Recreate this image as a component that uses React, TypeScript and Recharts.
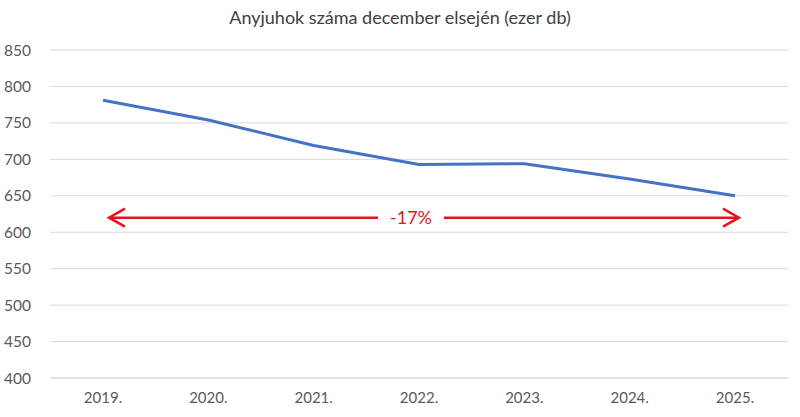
import React from 'react';
import { LineChart, Line, XAxis, YAxis, CartesianGrid, ReferenceLine } from 'recharts';

const years = ['2019.', '2020.', '2021.', '2022.', '2023.', '2024.', '2025.'];
const ewes = [781, 754, 719, 693, 694, 673, 650];
const yTicks = [400, 450, 500, 550, 600, 650, 700, 750, 800, 850];
const arrowLevel = 620;
const changeLabel = '-17%';

const data = years.map((year, i) => ({ year, value: ewes[i] }));

const RED = '#e3141e';
const FONT = 'Lato, "Liberation Sans", sans-serif';

const ArrowShape = (props: any) => {
  const { x1, y1, x2 } = props;
  const left = x1 + 6;
  const right = x2 + 4;
  const y = y1;
  const mid = (left + right) / 2 - 13;
  const gap = 33;
  return (
    <g>
      <line x1={left} y1={y} x2={mid - gap} y2={y} stroke={RED} strokeWidth={2.5} />
      <line x1={mid + gap} y1={y} x2={right} y2={y} stroke={RED} strokeWidth={2.5} />
      <polyline
        points={`${left + 16},${y - 9} ${left},${y} ${left + 16},${y + 9}`}
        fill="none"
        stroke={RED}
        strokeWidth={2.5}
      />
      <polyline
        points={`${right - 16},${y - 9} ${right},${y} ${right - 16},${y + 9}`}
        fill="none"
        stroke={RED}
        strokeWidth={2.5}
      />
      <text x={mid} y={y + 6} textAnchor="middle" fill={RED} fontSize={18} fontFamily={FONT}>
        {changeLabel}
      </text>
    </g>
  );
};

export default function App() {
  return (
    <div style={{ position: 'absolute', left: 0, top: 0, width: 800, height: 417, background: '#fff' }}>
      <div
        style={{
          position: 'absolute',
          top: 6,
          width: 800,
          textAlign: 'center',
          fontFamily: FONT,
          fontSize: 18,
          color: '#404040',
        }}
      >
        Anyjuhok száma december elsején (ezer db)
      </div>
      <LineChart width={800} height={417} data={data} margin={{ top: 50, right: 12, bottom: 9, left: 0 }}>
        <CartesianGrid vertical={false} stroke="#d9d9d9" />
        <XAxis
          dataKey="year"
          padding={{ left: 53, right: 53 }}
          axisLine={{ stroke: '#d9d9d9' }}
          tickLine={false}
          tick={{ fill: '#595959', fontSize: 15, fontFamily: FONT }}
          tickMargin={8}
          height={30}
        />
        <YAxis
          domain={[400, 850]}
          ticks={yTicks}
          axisLine={false}
          tickLine={false}
          tick={{ fill: '#595959', fontSize: 15.5, fontFamily: FONT }}
          width={50}
          tickMargin={13}
        />
        <Line
          type="linear"
          dataKey="value"
          stroke="#4472c4"
          strokeWidth={3}
          dot={false}
          isAnimationActive={false}
        />
        <ReferenceLine
          segment={[
            { x: years[0], y: arrowLevel },
            { x: years[years.length - 1], y: arrowLevel },
          ]}
          shape={ArrowShape}
        />
      </LineChart>
    </div>
  );
}
